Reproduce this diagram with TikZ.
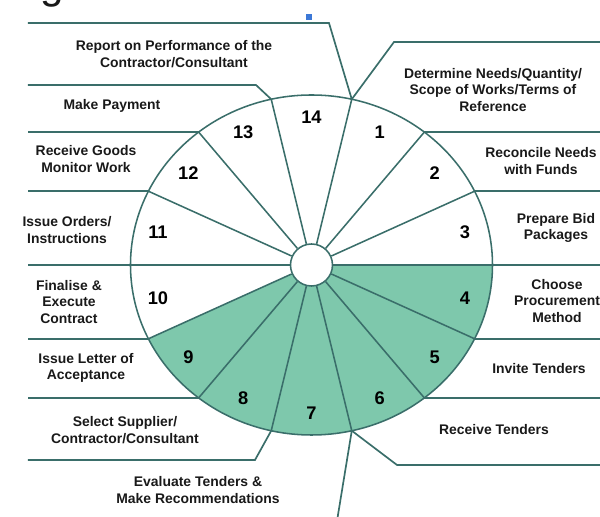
\documentclass[tikz,border=0pt]{standalone}
\usepackage{fontspec}
\setmainfont{Liberation Sans}
\usetikzlibrary{calc}
\definecolor{wheelline}{RGB}{58,110,106}
\definecolor{wheelfill}{RGB}{126,200,172}
\definecolor{labeltext}{RGB}{25,25,25}
\definecolor{handle}{RGB}{60,120,215}
\newcommand\EllipsePoint[2]{% name, angle
  \coordinate (#1) at ({\Ra*cos(#2)},{\Rb*sin(#2)});
}
\tikzset{%
  spoke/.style={draw=wheelline,line width=1.1pt},
  leader/.style={draw=wheelline,line width=1.2pt},
  steplabel/.style={font=\fontsize{9.9}{11.7}\selectfont\bfseries,
    text=labeltext,align=center,inner sep=0pt},
  stepnum/.style={font=\fontsize{13}{13}\selectfont\bfseries,
    text=black,inner sep=0pt}
}
\begin{document}
\begin{tikzpicture}[x=0.025cm,y=0.025cm]

%% some definitions

\def\Ra{181} % horizontal radius of the wheel
\def\Rb{170} % vertical radius of the wheel
\def\Ang{25.7142857} % 360/14
\def\xL{-283.5} % left end of the leaders
\def\xR{288.5} % right end of the leaders

\useasboundingbox (-311.5,-252) rectangle (288.5,265);

\coordinate (O) at (0,0);
\coordinate (left) at (\xL,0);
\coordinate (right) at (\xR,0);

%% shaded stages 4 to 9

\fill[wheelfill] (O) -- (\Ra,0) arc[start angle=0,end angle=-154.2857,
    x radius=\Ra,y radius=\Rb] -- cycle;
\draw[spoke] (O) ellipse[x radius=\Ra,y radius=\Rb];
\node[circle,draw=wheelline,line width=1.1pt,fill=white,minimum size=1.05cm,
    inner sep=0pt] (hub) at (O) {};

%% spokes

\foreach \k in {0,...,13}{
  \pgfmathsetmacro\t{77.142857-\k*\Ang}
  \EllipsePoint{b\k}{\t}
  \draw[spoke] (hub) -- (b\k);
}

%% stage numbers

\foreach \k in {1,...,14}{
  \pgfmathsetmacro\m{90-\k*\Ang}
  \node[stepnum] (n\k) at ({0.87*\Ra*cos(\m)},{0.87*\Rb*sin(\m)}) {\k};
}

%% leader lines

\coordinate (kT1) at (17.5,242);
\coordinate (kT2) at (82.5,223);
\coordinate (k13) at (-55.5,180);
\coordinate (k7) at (-56.5,-195);
\coordinate (k6) at (85.5,-200);
\coordinate (bottom) at (25.5,-256);
\draw[leader] (b0) -- (kT1) -- (kT1 -| left);
\draw[leader] (b0) -- (kT2) -- (kT2 -| right);
\draw[leader] (b13) -- (k13) -- (k13 -| left);
\foreach \k in {8,...,12}
  \draw[leader] (b\k) -- (b\k -| left);
\draw[leader] (b7) -- (k7) -- (k7 -| left);
\draw[leader] (b6) -- (k6) -- (k6 -| right);
\draw[leader] (b6) -- (bottom);
\foreach \k in {1,...,5}
  \draw[leader] (b\k) -- (b\k -| right);

%% labels

\node[steplabel] (l14) at (-137.5,211) {Report on Performance of the\\Contractor/Consultant};
\node[steplabel] (l13) at (-199.5,159) {Make Payment};
\node[steplabel] (l12) at (-225.5,106) {Receive Goods\\Monitor Work};
\node[steplabel] (l11) at (-244.5,35) {Issue Orders/\\Instructions};
\node[steplabel] (l10) at (-242.5,-37) {Finalise \&\\Execute\\Contract};
\node[steplabel] (l9) at (-225.5,-103) {Issue Letter of\\Acceptance};
\node[steplabel] (l8) at (-186.5,-165) {Select Supplier/\\Contractor/Consultant};
\node[steplabel] (l7) at (-113.5,-225) {Evaluate Tenders \&\\Make Recommendations};
\node[steplabel] (l1) at (181.5,175) {Determine Needs/Quantity/\\Scope of Works/Terms of\\Reference};
\node[steplabel] (l2) at (229.5,104) {Reconcile Needs\\with Funds};
\node[steplabel] (l3) at (244.5,37) {Prepare Bid\\Packages};
\node[steplabel] (l4) at (245.5,-36) {Choose\\Procurement\\Method};
\node[steplabel] (l5) at (227.5,-104) {Invite Tenders};
\node[steplabel] (l6) at (182.5,-165) {Receive Tenders};

%% odd bits at the top

\node[fill=handle,minimum size=0.15cm,inner sep=0pt] (mark) at (-2.5,248) {};
\node[anchor=base,font=\fontsize{30}{30}\selectfont,text=labeltext,
    inner sep=0pt] (caption) at (-259.5,266) {g};
\end{tikzpicture}
\end{document}
